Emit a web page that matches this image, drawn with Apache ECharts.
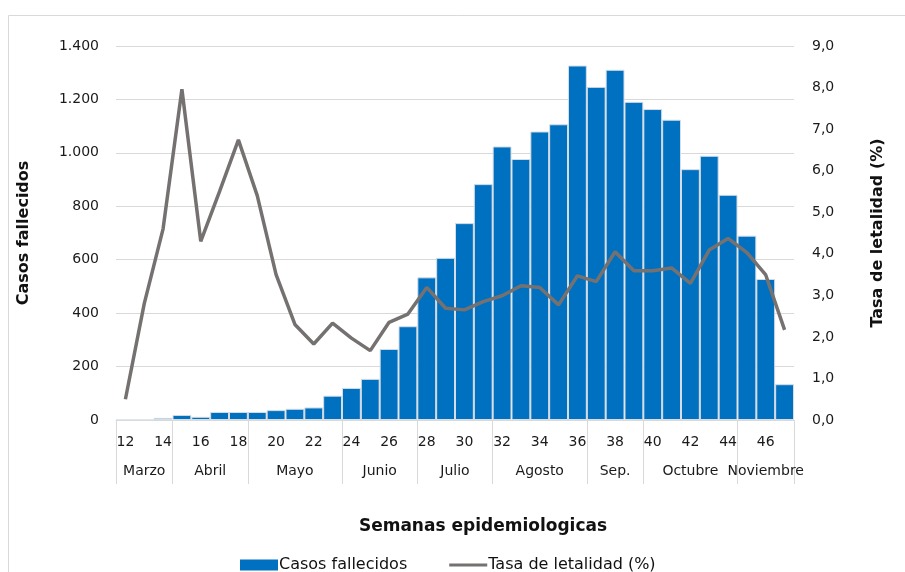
<!DOCTYPE html>
<html lang="es">
<head>
    <meta charset="UTF-8">
    <title>Casos fallecidos y tasa de letalidad por semana epidemiologica</title>
    <script src="https://cdn.jsdelivr.net/npm/echarts@6.0.0/dist/echarts.min.js"></script>
    <style>
        html, body { margin: 0; padding: 0; background: #fff; }
        #main { width: 905px; height: 572px; }
    </style>
</head>
<body>
    <div id="main"></div>

    <script>
        // semanas epidemiologicas 12 a 47
        var semanas = [12, 13, 14, 15, 16, 17, 18, 19, 20, 21, 22, 23, 24, 25, 26, 27, 28, 29,
                       30, 31, 32, 33, 34, 35, 36, 37, 38, 39, 40, 41, 42, 43, 44, 45, 46, 47];

        var fallecidos = [0, 0, 8, 19, 12, 30, 30, 30, 37, 42, 47, 91, 120, 154, 266, 351, 534, 607,
                          737, 883, 1024, 977, 1080, 1107, 1327, 1247, 1311, 1191, 1164, 1124, 939, 989, 843, 690, 528, 134];

        var letalidad = [0.5, 2.8, 4.6, 7.96, 4.3, 5.5, 6.74, 5.4, 3.5, 2.3, 1.83, 2.33, 1.97, 1.67, 2.35, 2.55, 3.19, 2.69,
                         2.65, 2.85, 2.99, 3.23, 3.19, 2.77, 3.47, 3.33, 4.05, 3.59, 3.59, 3.66, 3.29, 4.09, 4.37, 4.03, 3.49, 2.17];

        // meses y cuantas semanas abarca cada uno
        var meses = ['Marzo', 'Abril', 'Mayo', 'Junio', 'Julio', 'Agosto', 'Sep.', 'Octubre', 'Noviembre'];
        var semanasPorMes = [3, 4, 5, 4, 4, 5, 3, 5, 3];

        var limitesMes = [0];
        var centrosMes = [];
        semanasPorMes.forEach(function (n, i) {
            centrosMes.push(limitesMes[i] + n / 2);
            limitesMes.push(limitesMes[i] + n);
        });

        var fuente = 'DejaVu Sans';
        var gris = '#d9d9d9';
        var texto = '#1a1a1a';

        var myChart = echarts.init(document.getElementById('main'));

        var option = {
            animation: false,
            textStyle: { fontFamily: fuente },
            graphic: [{
                type: 'rect',
                left: 6,
                top: 13,
                shape: { width: 920, height: 600 },
                style: { fill: 'none', stroke: gris, lineWidth: 1 },
                silent: true
            }],
            title: {
                text: 'Semanas epidemiologicas',
                left: 478,
                top: 513,
                textAlign: 'center',
                textStyle: { fontFamily: fuente, fontSize: 17, fontWeight: 'bold', color: '#111' }
            },
            legend: {
                left: 235,
                top: 552,
                itemWidth: 38,
                itemHeight: 11,
                itemGap: 42,
                textStyle: { fontFamily: fuente, fontSize: 16, color: '#111', padding: [0, 0, 0, -4] },
                data: [
                    { name: 'Casos fallecidos', icon: 'rect', itemStyle: { borderWidth: 0 } },
                    { name: 'Tasa de letalidad (%)', icon: 'path://M0,0 L0,0 M0,4 L38,4 L38,7 L0,7 Z M38,11 L38,11' }
                ]
            },
            grid: { left: 116, right: 111, top: 46, bottom: 152 },
            xAxis: [{
                type: 'category',
                data: semanas,
                position: 'bottom',
                axisLine: { lineStyle: { color: gris } },
                axisTick: { show: false },
                axisLabel: {
                    interval: 1,
                    margin: 15,
                    fontSize: 14,
                    color: texto
                }
            }, {
                type: 'value',
                min: 0,
                max: semanas.length,
                position: 'bottom',
                axisLine: { show: false },
                splitLine: { show: false },
                axisTick: {
                    show: true,
                    length: 64,
                    customValues: limitesMes,
                    lineStyle: { color: gris, width: 1 }
                },
                axisLabel: {
                    customValues: centrosMes,
                    margin: 44,
                    fontSize: 14,
                    color: texto,
                    formatter: function (v) {
                        var i = centrosMes.indexOf(v);
                        return i >= 0 ? meses[i] : '';
                    }
                }
            }],
            yAxis: [{
                type: 'value',
                min: 0,
                max: 1400,
                interval: 200,
                name: 'Casos fallecidos',
                nameLocation: 'middle',
                nameGap: 84,
                nameTextStyle: { fontFamily: fuente, fontSize: 16, fontWeight: 'bold', color: '#111' },
                axisLine: { show: false },
                axisTick: { show: false },
                splitLine: { lineStyle: { color: gris, width: 1 } },
                axisLabel: {
                    margin: 17,
                    fontSize: 14,
                    color: texto,
                    formatter: function (v) {
                        return String(v).replace(/\B(?=(\d{3})+(?!\d))/g, '.');
                    }
                }
            }, {
                type: 'value',
                min: 0,
                max: 9,
                interval: 1,
                name: 'Tasa de letalidad (%)',
                nameLocation: 'middle',
                nameGap: 76,
                nameRotate: 90,
                nameTextStyle: { fontFamily: fuente, fontSize: 16, fontWeight: 'bold', color: '#111' },
                axisLine: { show: false },
                axisTick: { show: false },
                splitLine: { show: false },
                axisLabel: {
                    margin: 18,
                    fontSize: 14,
                    color: texto,
                    formatter: function (v) {
                        return v.toFixed(1).replace('.', ',');
                    }
                }
            }],
            series: [{
                name: 'Casos fallecidos',
                type: 'bar',
                data: fallecidos,
                xAxisIndex: 0,
                yAxisIndex: 0,
                barCategoryGap: 0,
                itemStyle: { color: '#0070c0', borderColor: '#d6dde4', borderWidth: 1 }
            }, {
                name: 'Tasa de letalidad (%)',
                type: 'line',
                data: letalidad,
                xAxisIndex: 0,
                yAxisIndex: 1,
                symbol: 'none',
                lineStyle: { color: '#767171', width: 3.5 },
                itemStyle: { color: '#767171' }
            }]
        };

        myChart.setOption(option);
    </script>
</body>
</html>
